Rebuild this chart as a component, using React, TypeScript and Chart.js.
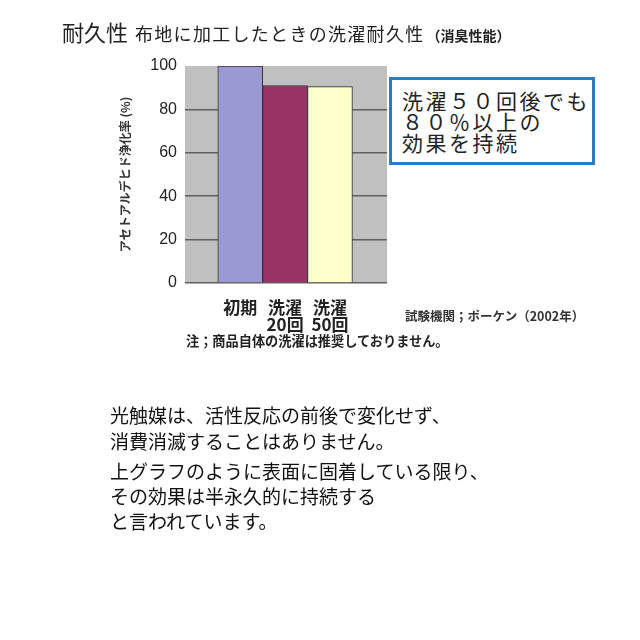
import React, { useEffect, useRef } from "react";
import { Chart, registerables } from "chart.js";

Chart.register(...registerables);

const categories: (string | string[])[] = ["初期", ["洗濯", "20回"], ["洗濯", "50回"]];
const values = [100, 91, 90.5];
const barColors = ["#9b99d3", "#993366", "#ffffcc"];
const yMin = 0;
const yMax = 100;
const yStep = 20;
const yTitle = "アセトアルデヒド浄化率 (%)";

const titleMain = "耐久性";
const titleSub = "布地に加工したときの洗濯耐久性";
const titleNote = "（消臭性能）";
const calloutLines = ["洗濯５０回後でも", "８０％以上の", "効果を持続"];
const sourceText = "試験機関；ポーケン（2002年）";
const noteText = "注；商品自体の洗濯は推奨しておりません。";
const para1 = ["光触媒は、活性反応の前後で変化せず、", "消費消滅することはありません。"];
const para2 = ["上グラフのように表面に固着している限り、", "その効果は半永久的に持続する", "と言われています。"];

const JP = '"Noto Sans CJK JP", "Noto Sans", sans-serif';

const bgPlugin = {
  id: "plotBg",
  beforeDraw(chart: any) {
    const { ctx, chartArea } = chart;
    ctx.save();
    ctx.fillStyle = "#c0c0c0";
    ctx.fillRect(chartArea.left, chartArea.top, chartArea.right - chartArea.left, chartArea.bottom - chartArea.top);
    ctx.restore();
  },
};

export default function App() {
  const ref = useRef<HTMLCanvasElement | null>(null);
  useEffect(() => {
    if (!ref.current) return;
    const chart = new Chart(ref.current, {
      type: "bar",
      data: {
        datasets: [
          {
            data: values.map((v, i) => ({ x: i, y: v })),
            backgroundColor: barColors,
            borderColor: "#333333",
            borderWidth: 1,
            categoryPercentage: 1,
            barPercentage: 1,
          },
        ],
      },
      plugins: [bgPlugin],
      options: {
        animation: false,
        responsive: false,
        maintainAspectRatio: false,
        layout: { padding: { left: 0, top: 66, right: 253, bottom: 297 } },
        plugins: { legend: { display: false }, tooltip: { enabled: false }, title: { display: false } },
        scales: {
          x: {
            type: "linear",
            offset: false,
            min: -1.23,
            max: 3.27,
            grid: { display: false },
            border: { display: false },
            afterBuildTicks: (scale: any) => {
              scale.ticks = categories.map((_, i) => ({ value: i }));
            },
            afterFit: (scale: any) => {
              scale.height = 60;
            },
            ticks: {
              autoSkip: false,
              maxRotation: 0,
              padding: 8,
              color: "#222222",
              font: { family: JP, size: 17, weight: "bold", lineHeight: 1.0 },
              callback: (v: any) => categories[Math.round(Number(v))] as any,
            },
          },
          y: {
            min: yMin,
            max: yMax,
            grid: {
              color: (ctx: any) => (ctx.tick && ctx.tick.value === yMax ? "rgba(0,0,0,0)" : "#5f5f5f"),
              lineWidth: 1.5,
              drawTicks: false,
            },
            border: { display: false },
            afterFit: (scale: any) => {
              scale.width = 185;
            },
            ticks: {
              stepSize: yStep,
              padding: 8,
              color: "#222222",
              font: { family: '"Liberation Sans", Arial, sans-serif', size: 16 },
            },
            title: {
              display: true,
              text: yTitle,
              color: "#333333",
              font: { family: JP, size: 12, weight: "bold" },
              padding: { top: 118, bottom: 0 },
            },
          },
        },
      },
    });
    return () => chart.destroy();
  }, []);

  return (
    <div style={{ position: "fixed", left: 0, top: 0, width: 640, height: 640, background: "#ffffff", overflow: "hidden", fontFamily: JP, color: "#222222" }}>
      <canvas ref={ref} width={640} height={640} style={{ position: "absolute", left: 0, top: 0, width: 640, height: 640 }} />
      <div style={{ position: "absolute", left: 62, top: 16, whiteSpace: "nowrap", lineHeight: "30px", color: "#222" }}>
        <span style={{ fontSize: 22 }}>{titleMain}</span>
        <span style={{ fontSize: 18, marginLeft: 7, letterSpacing: 1.3 }}>{titleSub}</span>
        <span style={{ fontSize: 14, fontWeight: "bold", marginLeft: 2 }}>{titleNote}</span>
      </div>
      <div
        style={{
          position: "absolute",
          left: 389,
          top: 77,
          width: 206,
          height: 88,
          boxSizing: "border-box",
          border: "3px solid #2b7bbf",
          background: "#ffffff",
          padding: "10px 0 0 10px",
          fontSize: 21,
          lineHeight: "21px",
          letterSpacing: 2.5,
          color: "#222",
          whiteSpace: "nowrap",
        }}
      >
        {calloutLines.map((l, i) => (
          <div key={i}>{l}</div>
        ))}
      </div>
      <div style={{ position: "absolute", left: 405, top: 306, fontSize: 12.5, fontWeight: "bold", whiteSpace: "nowrap", color: "#333" }}>{sourceText}</div>
      <div style={{ position: "absolute", left: 186, top: 331, fontSize: 13.2, fontWeight: "bold", whiteSpace: "nowrap", color: "#222" }}>{noteText}</div>
      <div style={{ position: "absolute", left: 110, top: 402, fontSize: 19, lineHeight: "26px", whiteSpace: "nowrap", color: "#111" }}>
        {para1.map((l, i) => (
          <div key={i}>{l}</div>
        ))}
      </div>
      <div style={{ position: "absolute", left: 110, top: 458, fontSize: 19, lineHeight: "25px", whiteSpace: "nowrap", color: "#111" }}>
        {para2.map((l, i) => (
          <div key={i}>{l}</div>
        ))}
      </div>
    </div>
  );
}
